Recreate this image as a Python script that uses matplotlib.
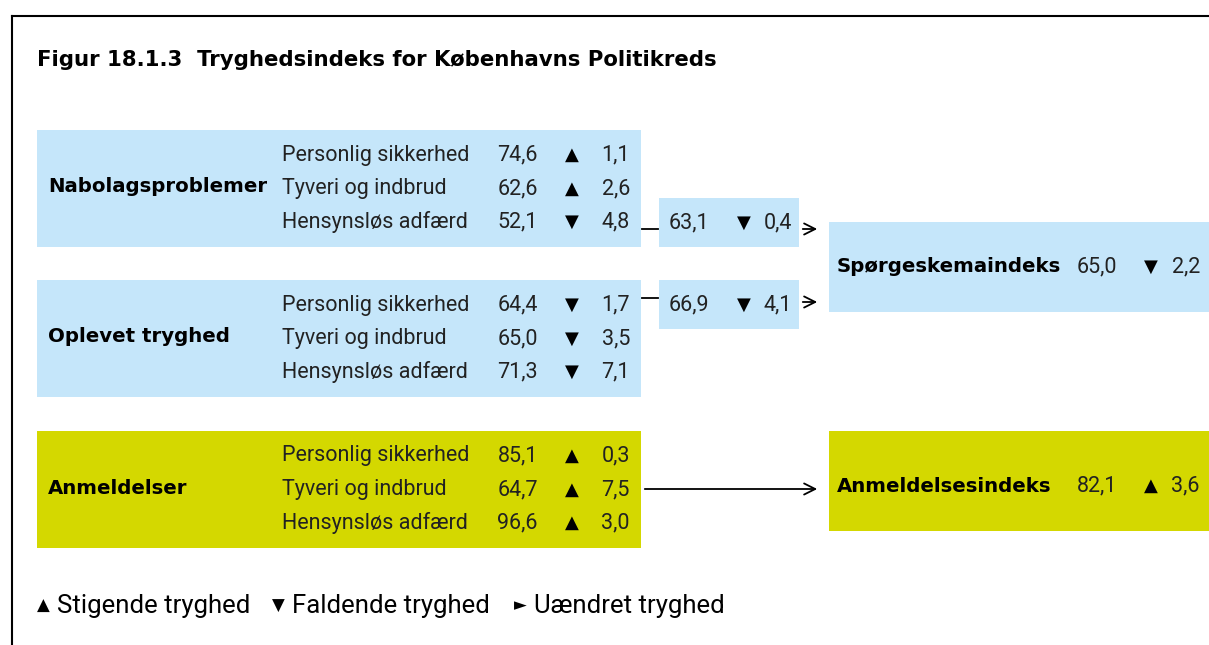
import matplotlib.pyplot as plt
from matplotlib.patches import Rectangle

plt.rcParams['font.family'] = ['Roboto', 'DejaVu Sans']

# data
title = "Figur 18.1.3  Tryghedsindeks for Københavns Politikreds"
groups = ["Nabolagsproblemer", "Oplevet tryghed", "Anmeldelser"]
items = ["Personlig sikkerhed", "Tyveri og indbrud", "Hensynsløs adfærd"]
values = [[74.6, 62.6, 52.1], [64.4, 65.0, 71.3], [85.1, 64.7, 96.6]]
changes = [[1.1, 2.6, 4.8], [1.7, 3.5, 7.1], [0.3, 7.5, 3.0]]
directions = [["up", "up", "down"], ["down", "down", "down"], ["up", "up", "up"]]
sub_values = [63.1, 66.9]
sub_changes = [0.4, 4.1]
sub_dirs = ["down", "down"]
index_names = ["Spørgeskemaindeks", "Anmeldelsesindeks"]
index_values = [65.0, 82.1]
index_changes = [2.2, 3.6]
index_dirs = ["down", "up"]
legend_items = [("▲", "Stigende tryghed"), ("▼", "Faldende tryghed"), ("►", "Uændret tryghed")]

BLUE = "#c5e6fa"
YELLOW = "#d4d800"
TXT = "#222222"
BOLDFONT = ['DejaVu Sans']
sym = {"up": "▲", "down": "▼"}
FS = 15.5


def fmt(v):
    return f"{v:.1f}".replace(".", ",")


fig = plt.figure(figsize=(12.09, 6.45), dpi=100)
ax = fig.add_axes([0, 0, 1, 1])
ax.set_xlim(0, 1209)
ax.set_ylim(645, 0)
ax.axis("off")

# frame
ax.plot([12, 1209], [16, 16], color="black", lw=1.5)
ax.plot([12, 12], [16, 645], color="black", lw=1.5)

ax.text(37, 60, title, fontsize=15.3, fontweight="bold", family=BOLDFONT, va="center", color="black")

box_tops = [130, 280, 431]
box_cols = [BLUE, BLUE, YELLOW]
row_step = 33.5
for g, name in enumerate(groups):
    top = box_tops[g]
    ax.add_patch(Rectangle((37, top), 604, 117, color=box_cols[g], lw=0))
    ax.text(48, top + 57, name, fontsize=14.2, fontweight="bold", family=BOLDFONT, va="center", color="black")
    for i, item in enumerate(items):
        y = top + 25 + i * row_step
        ax.text(282, y, item, fontsize=FS, va="center", color=TXT)
        ax.text(538, y, fmt(values[g][i]), fontsize=FS, va="center", ha="right", color=TXT)
        ax.text(572, y, sym[directions[g][i]], fontsize=13, va="center", ha="center", color="black")
        ax.text(630, y, fmt(changes[g][i]), fontsize=FS, va="center", ha="right", color=TXT)

# small sub-index boxes
sub_tops = [198, 280]
line_y = [229, 298]
arrow_y = [229, 302]
for k in range(2):
    top = sub_tops[k]
    yc = top + 25
    ax.add_patch(Rectangle((659, top), 140, 49, color=BLUE, lw=0))
    ax.plot([642, 658], [line_y[k], line_y[k]], color="black", lw=1.3)
    ax.text(669, yc, fmt(sub_values[k]), fontsize=FS, va="center", color=TXT)
    ax.text(744, yc, sym[sub_dirs[k]], fontsize=13, va="center", ha="center", color="black")
    ax.text(792, yc, fmt(sub_changes[k]), fontsize=FS, va="center", ha="right", color=TXT)
    ax.annotate("", xy=(820, arrow_y[k]), xytext=(800, arrow_y[k]),
                arrowprops=dict(arrowstyle="->", color="black", lw=1.3, mutation_scale=20))

# index boxes
idx_tops = [222, 431]
idx_h = [90, 100]
idx_cols = [BLUE, YELLOW]
for k in range(2):
    top = idx_tops[k]
    yc = top + 45 if k == 0 else top + 55
    ax.add_patch(Rectangle((829, top), 380, idx_h[k], color=idx_cols[k], lw=0))
    ax.text(837, yc, index_names[k], fontsize=14.2, fontweight="bold", family=BOLDFONT, va="center", color="black")
    ax.text(1077, yc, fmt(index_values[k]), fontsize=FS, va="center", color=TXT)
    ax.text(1151, yc, sym[index_dirs[k]], fontsize=13, va="center", ha="center", color="black")
    ax.text(1200, yc, fmt(index_changes[k]), fontsize=FS, va="center", ha="right", color=TXT)

# arrow Anmeldelser -> Anmeldelsesindeks
ax.annotate("", xy=(820, 489), xytext=(642, 489),
            arrowprops=dict(arrowstyle="->", color="black", lw=1.3, mutation_scale=20))

# legend
lx = [37, 272, 514]
for (s, lab), x in zip(legend_items, lx):
    ax.text(x, 606, s, fontsize=12, va="center", color="black")
    ax.text(x + 20, 606, lab, fontsize=18.5, va="center", color="black")

fig.savefig("out.png", dpi=100)
